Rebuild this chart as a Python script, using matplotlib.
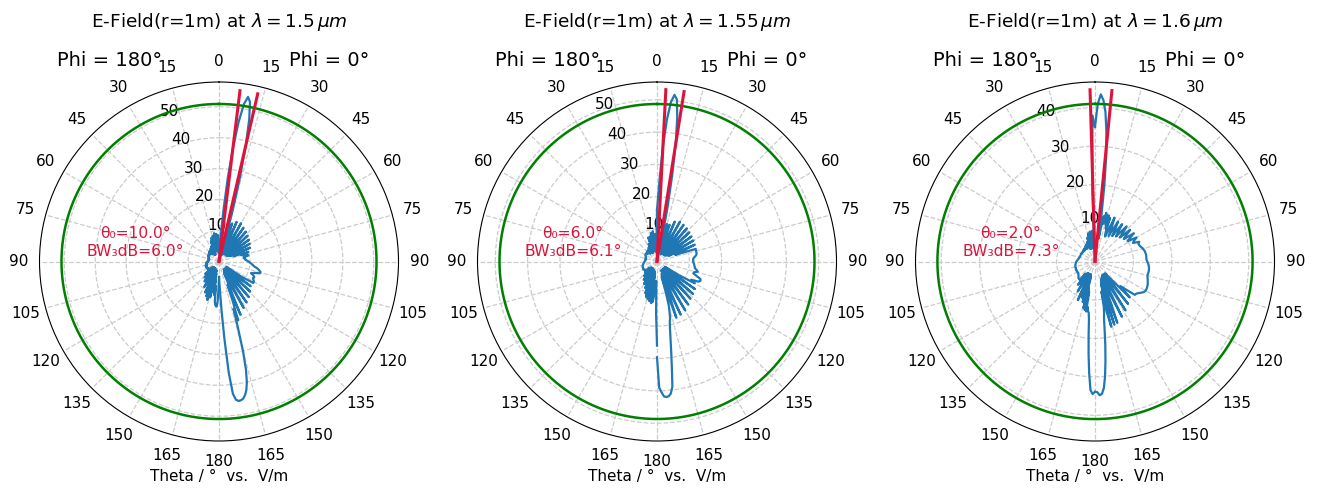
"""
Far-field E-field cuts (Phi = 0 / 180 deg) at three wavelengths, polar view.
"""

import matplotlib
matplotlib.use("Agg")
import matplotlib.pyplot as plt
import numpy as np

# ---------------------------------------------------------------------------
# Data (|E| in V/m)
# ---------------------------------------------------------------------------
# theta sampling: 1 deg near the axis, 2 deg in the middle, 1 deg near 180
THETA_DEG = np.r_[0:21, 22:159:2, 159:181]

WAVELENGTHS = ["1.5", "1.55", "1.6"]
THETA0 = [10.0, 6.0, 2.0]          # beam direction, deg
BW3DB = [6.0, 6.1, 7.3]            # half-power beam width, deg
R_MAX = [58.0, 55.5, 46.7]
R_TICKS = [[10, 20, 30, 40, 50], [10, 20, 30, 40, 50], [10, 20, 30, 40]]
GREEN_LEVEL = [50.9, 48.7, 41.0]
RED_LEN = [55.6, 53.2, 44.7]

E_PHI0_15 = [
    4.0, 3.0, 2.5, 5.0, 9.0, 17.0, 27.0, 37.0, 45.5, 51.5,
    54.0, 52.5, 47.0, 38.5, 28.0, 17.0, 8.0, 3.0, 8.0, 13.0,
    10.0,
    3, 14, 7, 2.5, 14.3, 7, 3, 13.5, 6.5, 3,
    13, 6, 3, 12.5, 6, 3, 12, 6, 3.5, 11.5,
    6, 4, 11, 6, 5, 10, 7.5, 8, 9.7, 8.5,
    8, 8.5, 8.5, 9, 9.5, 10, 10.5, 11, 11.5, 12.5,
    13.2, 13.8, 13.8, 12, 11, 12, 12.5, 12.2, 12.6, 13,
    13.1, 9, 3, 13, 8, 3, 14, 7, 3, 15,
    7, 3, 16, 8, 3, 17, 8, 4, 18.6,
    12, 8, 14, 20, 16, 22, 30, 36, 40, 42.5,
    44, 45, 45.4, 45.5, 45, 43, 36, 25, 16, 10,
    7, 5,
]
E_PHI180_15 = [
    4.0, 7.0, 8.5, 5.0, 3.0, 6.0, 9.0, 7.0, 3.5, 6.0,
    9.3, 8.0, 4.0, 5.0, 8.5, 7.0, 3.5, 5.0, 8.0, 7.0,
    3.5,
    7, 3, 2.5, 5.5, 3, 2.5, 5, 3, 3, 4.5,
    3.2, 3.5, 4.5, 3.5, 3.6, 4.2, 3.8, 3.8, 4, 4,
    3.8, 3.9, 3.8, 3.6, 3.5, 3.4, 3.6, 3.3, 3.4, 3.2,
    3.4, 3.5, 3.3, 3.6, 3.8, 3.6, 4, 3.8, 4.2, 4,
    4.3, 4, 4.5, 4.2, 4.6, 4.4, 4.5, 4.2, 4.5, 4.3,
    4.4, 4.1, 4.3, 4, 3, 6, 3.5, 2.5, 7, 3.5,
    2.5, 8, 4, 2.5, 9.5, 4, 2.5, 11, 5,
    3, 12, 6, 3, 13, 6, 3, 12, 5, 4,
    10, 6, 8, 11, 8, 13, 14, 14.5, 14.6, 13,
    9, 5,
]

E_PHI0_155 = [
    16, 20, 27, 36, 44, 49.5, 51.8, 50.5, 45, 37,
    27, 17, 8, 5, 10, 12, 8, 4, 11, 12,
    7,
    3, 13.5, 7, 2.5, 14.2, 7, 3, 14, 7, 3,
    13.8, 6.5, 3, 13.5, 6.5, 3, 13.2, 6.5, 3.5, 13,
    7, 4, 12.8, 8, 6, 12.6, 12.5, 12.5, 12.5, 12.4,
    12, 11.5, 11.2, 11.2, 11.2, 11.3, 11.5, 11.6, 11.8, 11.9,
    12.5, 13, 12, 11.8, 13, 14.5, 14.7, 14.2, 12, 13.5,
    8, 3, 14.5, 7, 3, 15, 7, 3, 15.5, 7,
    3, 16.5, 8, 3, 17.5, 8, 3, 18, 9,
    4, 12, 18.4, 12, 5, 10, 14, 16, 18, 19,
    21, 24, 28, 33, 39, 41, 41.8, 42, 41.8, 40.5,
    39, 29.6,
]
E_PHI180_155 = [
    16, 8, 3, 6, 8.5, 6, 3, 6, 9.5, 7,
    3.5, 6, 9, 7, 3.5, 5.5, 8, 6.5, 3.5, 5.5,
    7.9,
    4, 3, 6, 3, 3, 5, 3.2, 3.2, 4.5, 3.2,
    3.6, 4.4, 3.6, 3.8, 4.2, 3.8, 4, 4.2, 4.1, 4.1,
    4, 4, 3.8, 3.7, 3.6, 3.6, 3.7, 3.5, 3.6, 3.5,
    3.6, 3.6, 3.7, 3.8, 3.8, 3.9, 4, 4.1, 4.2, 4.3,
    4.4, 4.5, 4.6, 4.6, 4.7, 4.8, 4.8, 4.7, 4.8, 4.9,
    4.8, 4.6, 4.5, 4.3, 3, 5, 3.5, 2.5, 6, 3.5,
    2.5, 7, 3.5, 2.5, 8, 3.5, 2.5, 9, 4,
    3, 10.5, 5, 3, 11.5, 5, 3, 12, 6, 3.5,
    12.5, 7, 4, 13, 8, 12.5, 10, 9, 7, 6,
    16, 26,
]

E_PHI0_16 = [
    35, 41, 43.5, 42, 39, 34, 28, 20, 12, 6,
    9, 12, 10, 13, 11, 12.5, 10, 12.5, 9, 12,
    8,
    7, 12.5, 10, 7.5, 12, 10, 8, 12, 10, 8.5,
    12.3, 10.5, 9, 12.3, 10.5, 9.5, 12.5, 11, 10, 12.5,
    11.5, 11, 12.6, 12.2, 12.3, 12.5, 12.8, 13, 13.2, 13.3,
    13.4, 13.4, 13.4, 13.4, 13.6, 13.8, 14, 14.1, 14.2, 14.2,
    14.2, 14.1, 14.2, 14.4, 14.6, 14.8, 15, 15.1, 15.2, 15.2,
    15, 14.5, 14, 13.6, 13.5, 11, 9.2, 13, 6, 4,
    14, 7, 4, 15, 7, 4, 16, 8, 4.5,
    12, 17, 10, 5, 17.2, 11, 6, 17.5, 13, 8,
    12, 13.6, 15, 18, 22, 26, 30, 33, 34.5, 34.8,
    34, 33.9,
]
E_PHI180_16 = [
    35, 38, 20, 5, 4, 7, 8, 5, 3.5, 6.5,
    7.9, 6, 3.5, 6, 7.5, 5.5, 3.5, 5.5, 6.5, 5,
    3.5,
    5.5, 4.2, 5, 4, 4.8, 3.9, 4.6, 4, 4.4, 4,
    4.3, 4, 4.2, 4, 4.1, 4, 4.1, 4, 4.1, 4,
    4.1, 4.1, 4.1, 4.1, 4.1, 4.1, 4.2, 4.2, 4.3, 4.3,
    4.4, 4.5, 4.6, 4.7, 4.8, 4.9, 5, 5, 5.1, 5.2,
    5.2, 5.3, 5.3, 5.2, 5.3, 5.4, 5.3, 5.4, 5.3, 5.3,
    5.4, 5.3, 5.3, 5.5, 5.6, 5.8, 6, 6.1, 6.2, 6.2,
    4, 7.5, 5, 3.5, 9, 5, 3.5, 11, 5,
    3.5, 10, 6, 3.5, 11, 6, 4, 12.5, 7, 12.9,
    8, 13.2, 12, 13, 13.5, 15, 19, 24, 29, 33.5,
    34.5, 33.9,
]

CUTS = [
    (E_PHI0_15, E_PHI180_15),
    (E_PHI0_155, E_PHI180_155),
    (E_PHI0_16, E_PHI180_16),
]

BLUE = "#1f77b4"
RED = "crimson"
GREEN = "green"

# ---------------------------------------------------------------------------
# Plot
# ---------------------------------------------------------------------------
fig = plt.figure(figsize=(13.17, 4.91), dpi=100)

th_ticks = np.arange(0, 360, 15)
th_labels = [str(a if a <= 180 else 360 - a) for a in th_ticks]
th = np.deg2rad(THETA_DEG)

for i, (e0, e180) in enumerate(CUTS):
    assert len(e0) == len(THETA_DEG) and len(e180) == len(THETA_DEG)
    left = (219 - 179.5 + 438 * i) / 1317
    ax = fig.add_axes([left, 50 / 491, 359 / 1317, 359 / 491], projection="polar")
    ax.set_theta_zero_location("N")
    ax.set_theta_direction(-1)

    ax.plot(th, e0, color=BLUE, lw=1.6)
    ax.plot(-th, e180, color=BLUE, lw=1.6)

    circ = np.linspace(0, 2 * np.pi, 361)
    ax.plot(circ, np.full_like(circ, GREEN_LEVEL[i]), color=GREEN, lw=1.8)

    for a in (THETA0[i] - BW3DB[i] / 2, THETA0[i] + BW3DB[i] / 2):
        ax.plot([np.deg2rad(a)] * 2, [0, RED_LEN[i]], color=RED, lw=2.2)

    ax.set_ylim(0, R_MAX[i])
    ax.set_rticks(R_TICKS[i])
    ax.set_rlabel_position(-22.5)
    ax.set_thetagrids(th_ticks, [""] * len(th_ticks))
    ax.tick_params(axis="y", labelsize=11)
    ax.grid(True, linestyle="--", color="0.8", lw=0.9)

    # theta labels, placed at a fixed radius just outside the frame
    r_lab = R_MAX[i] * 200.5 / 179.5
    for a, lab in zip(th_ticks, th_labels):
        ax.text(np.deg2rad(a), r_lab, lab, ha="center", va="center",
                fontsize=11, clip_on=False)

    ax.text(0.266, 0.552,
            f"θ₀={THETA0[i]:.1f}°\nBW₃dB={BW3DB[i]:.1f}°",
            transform=ax.transAxes, ha="center", va="center",
            color=RED, fontsize=11.2, linespacing=1.25)

    ax.text(0.194, 1.061, "Phi = 180°", transform=ax.transAxes,
            ha="center", va="center", fontsize=14)
    ax.text(0.806, 1.061, "Phi = 0°", transform=ax.transAxes,
            ha="center", va="center", fontsize=14)
    ax.text(0.5, 1.168, rf"E-Field(r=1m) at $\lambda = {WAVELENGTHS[i]}\,\mu m$",
            transform=ax.transAxes, ha="center", va="center", fontsize=13.3)
    ax.text(0.5, -0.0975, "Theta / °  vs.  V/m", transform=ax.transAxes,
            ha="center", va="center", fontsize=11)

fig.savefig("out.png", dpi=100)
